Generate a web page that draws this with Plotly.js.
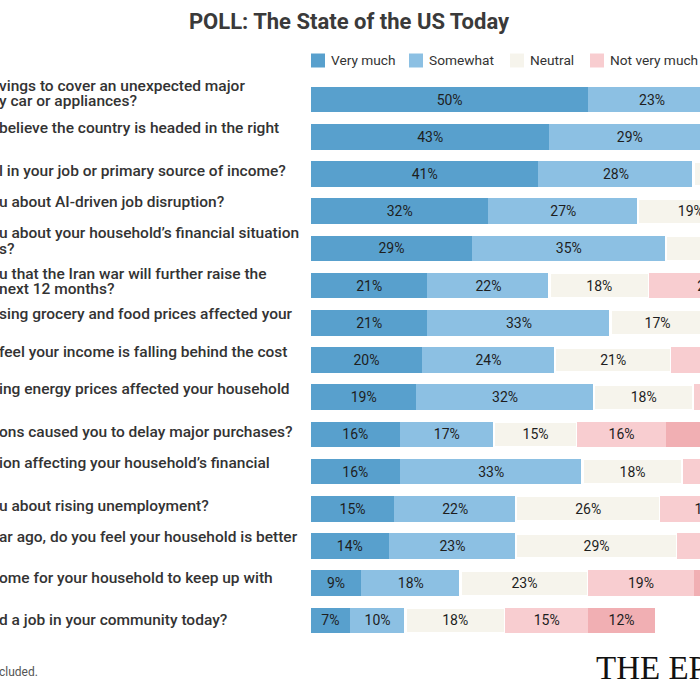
<!DOCTYPE html>
<html>
<head>
<meta charset="utf-8">
<script src="https://cdn.plot.ly/plotly-3.0.1.min.js"></script>
<style>
html, body { margin: 0; padding: 0; background: #ffffff; overflow: hidden; }
#wrap { width: 700px; height: 700px; overflow: hidden; position: relative; }
#chart { width: 900px; height: 700px; }
</style>
</head>
<body>
<div id="wrap"><div id="chart"></div></div>
<script>
// ---- Data (visible portion of the reference; the chart is cropped on the left and right) ----
const questions = [
  "vings to cover an unexpected major<br>y car or appliances?",
  "believe the country is headed in the right",
  "l in your job or primary source of income?",
  "u about AI-driven job disruption?",
  "u about your household’s financial situation<br>s?",
  "u that the Iran war will further raise the<br>next 12 months?",
  "sing grocery and food prices affected your",
  "feel your income is falling behind the cost",
  "ing energy prices affected your household",
  "ons caused you to delay major purchases?",
  "ion affecting your household’s financial",
  "u about rising unemployment?",
  "ar ago, do you feel your household is better",
  "ome for your household to keep up with",
  "d a job in your community today?"
];
const seriesNames = ["Very much", "Somewhat", "Neutral", "Not very much", "Not at all"];
const veryMuch    = [50, 43, 41, 32, 29, 21, 21, 20, 19, 16, 16, 15, 14, 9, 7];
const somewhat    = [23, 29, 28, 27, 35, 22, 33, 24, 32, 17, 33, 22, 23, 18, 10];
const neutral     = [null, null, 17, 19, 20, 18, 17, 21, 18, 15, 18, 26, 29, 23, 18];
const notVeryMuch = [null, null, null, null, null, 22, null, 19, 14, 16, 16, 17, 15, 19, 15];
const notAtAll    = [null, null, null, null, null, null, null, null, null, 22, null, null, null, 18, 12];
const titleText = "POLL: The State of the US Today";
const footnoteText = "cluded.";
const logoText = "THE EP";

// ---- Styling / layout helpers ----
const colors = ["#58a0cd", "#8cc0e3", "#f6f4ec", "#f8cdd0", "#f1afb3"];
const W = 900, H = 700;
const M = { l: 311, r: 34, t: 81, b: 61 };
const plotW = W - M.l - M.r, plotH = H - M.t - M.b;
const px2x = p => (p - M.l) / plotW;           // pixel x -> paper x
const px2y = p => (H - M.b - p) / plotH;       // pixel y -> paper y
const labelShift = [-14, -9, -3, -9, -15, -12, -9, -8, -8, -2, -9, -3, -9, -5, 0];
const lineGap = 15.5;

const allSeries = [veryMuch, somewhat, neutral, notVeryMuch, notAtAll];
const rowIdx = questions.map((q, i) => i);

const traces = allSeries.map((vals, s) => ({
  type: "bar",
  orientation: "h",
  name: seriesNames[s],
  x: vals,
  y: rowIdx,
  marker: { color: colors[s], line: s === 2 ? { color: "#ffffff", width: 2.5 } : { width: 0 } },
  texttemplate: "%{x}%",
  textposition: "inside",
  insidetextanchor: "middle",
  textangle: 0,
  constraintext: "none",
  textfont: { family: "Roboto, sans-serif", size: 14, color: "#1e1e1e" },
  hoverinfo: "skip",
  showlegend: false,
  cliponaxis: true
}));

const annotations = [];
questions.forEach((q, i) => {
  q.split("<br>").forEach((line, k) => {
    annotations.push({
      xref: "paper", x: px2x(-3), xanchor: "left",
      yref: "y", y: i, yanchor: "middle",
      yshift: -(labelShift[i] + k * lineGap),
      text: line, showarrow: false, align: "left",
      font: { family: "Roboto, sans-serif", size: 15.5, color: "#333333", weight: 500 }
    });
  });
});

// manual legend (top)
const legendSwatchX = [311, 409, 510, 590, 720];
const legendTextX = [328.5, 427, 527.5, 607.5, 738];
const shapes = [];
seriesNames.forEach((n, s) => {
  shapes.push({
    type: "rect", xref: "paper", yref: "paper",
    x0: px2x(legendSwatchX[s]), x1: px2x(legendSwatchX[s] + 14),
    y0: px2y(67.5), y1: px2y(53.5),
    fillcolor: colors[s], line: { width: 0 }
  });
  annotations.push({
    xref: "paper", x: px2x(legendTextX[s]), xanchor: "left",
    yref: "paper", y: px2y(60.5), yanchor: "middle",
    text: n, showarrow: false,
    font: { family: "Roboto, sans-serif", size: 13.7, color: "#333333" }
  });
});

annotations.push({
  xref: "paper", x: px2x(-3), xanchor: "left",
  yref: "paper", y: px2y(672), yanchor: "middle",
  text: footnoteText, showarrow: false,
  font: { family: "Roboto, sans-serif", size: 12, color: "#555555" }
});
annotations.push({
  xref: "paper", x: px2x(594), xanchor: "left",
  yref: "paper", y: px2y(668), yanchor: "middle",
  text: logoText, showarrow: false,
  font: { family: "Liberation Serif, serif", size: 33, color: "#111111" }
});

const layout = {
  width: W, height: H,
  margin: M,
  paper_bgcolor: "#ffffff", plot_bgcolor: "#ffffff",
  barmode: "stack",
  bargap: 0.315,
  showlegend: false,
  title: {
    text: "<b>" + titleText + "</b>",
    font: { family: "Roboto, sans-serif", size: 22, color: "#3a3a3a" },
    xref: "container", x: 349 / W, xanchor: "center",
    yref: "container", y: 1 - 21 / H, yanchor: "middle"
  },
  xaxis: { range: [0, plotW / 5.545], showgrid: false, zeroline: false, showticklabels: false, showline: false, fixedrange: true },
  yaxis: { type: "linear", range: [14.5, -0.5], showgrid: false, zeroline: false, showticklabels: false, showline: false, fixedrange: true },
  annotations: annotations,
  shapes: shapes
};

Plotly.newPlot("chart", traces, layout, { displayModeBar: false, staticPlot: true });
</script>
</body>
</html>
